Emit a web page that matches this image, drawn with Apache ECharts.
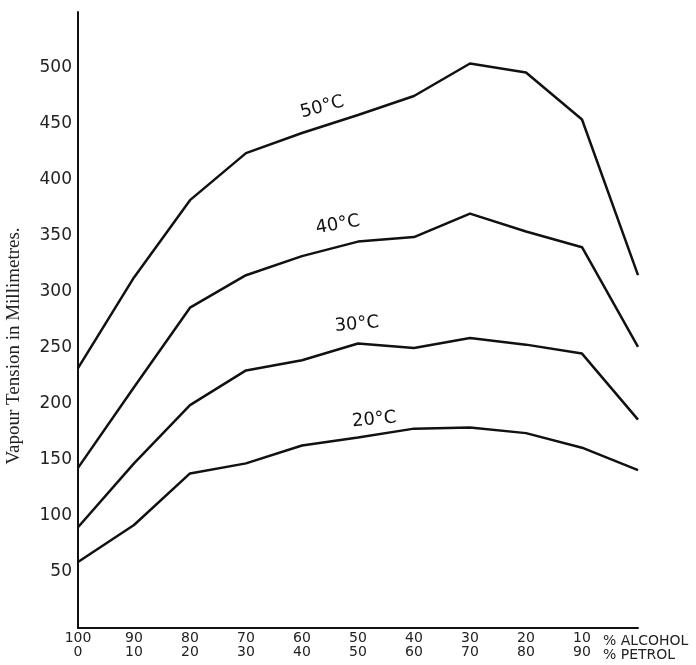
<!DOCTYPE html>
<html>
<head>
<meta charset="utf-8">
<script src="https://cdn.jsdelivr.net/npm/echarts@6/dist/echarts.min.js"></script>
<style>
  html, body { margin: 0; padding: 0; background: #fff; }
  #chart { width: 696px; height: 665px; }
</style>
</head>
<body>
<div id="chart"></div>
<script>
// % alcohol in the mixture (petrol = 100 - alcohol)
var alcohol = [100, 90, 80, 70, 60, 50, 40, 30, 20, 10, 0];

// vapour tension, mm
var t50 = [232, 313, 382, 424, 442, 458, 475, 504, 496, 454, 315];
var t40 = [143, 215, 286, 315, 332, 345, 349, 370, 354, 340, 251];
var t30 = [90, 147, 199, 230, 239, 254, 250, 259, 253, 245, 186];
var t20 = [59, 92, 138, 147, 163, 170, 178, 179, 174, 161, 141];

// curve labels: [alcohol, value, rotation]
var curveNames = ["50°C", "40°C", "30°C", "20°C"];
var namePos = [[56.4, 465, 15], [53.6, 360, 10], [50.2, 271, 5], [47.1, 186, 5]];

var yTicks = [50, 100, 150, 200, 250, 300, 350, 400, 450, 500];

function pairs(vals) {
  return alcohol.map(function (a, i) { return [a, vals[i]]; });
}

function makeSeries(vals, k) {
  return {
    type: "line",
    data: pairs(vals),
    symbol: "none",
    lineStyle: { color: "#111", width: 2.5 },
    animation: false,
    markPoint: {
      symbol: "circle",
      symbolSize: 0,
      data: [{
        coord: [namePos[k][0], namePos[k][1]],
        label: {
          show: true,
          formatter: curveNames[k],
          rotate: namePos[k][2],
          color: "#111",
          fontFamily: "DejaVu Sans",
          fontSize: 18
        }
      }]
    }
  };
}

var chart = echarts.init(document.getElementById("chart"));
chart.setOption({
  backgroundColor: "#fff",
  animation: false,
  grid: { left: 78, right: 58, top: 12, bottom: 37, containLabel: false, outerBoundsMode: "none" },
  xAxis: {
    type: "value",
    inverse: true,
    min: 0,
    max: 100,
    interval: 10,
    name: "% ALCOHOL\n% PETROL",
    nameLocation: "start",
    nameGap: -35,
    nameTextStyle: {
      fontFamily: "DejaVu Sans",
      fontSize: 14,
      lineHeight: 14,
      color: "#222",
      align: "left",
      verticalAlign: "top",
      padding: [6, 0, 0, 0]
    },
    axisLine: { onZero: false, lineStyle: { color: "#111", width: 2 } },
    axisTick: { show: false },
    splitLine: { show: false },
    axisLabel: {
      margin: 3,
      showMinLabel: true,
      showMaxLabel: true,
      color: "#222",
      fontFamily: "DejaVu Sans",
      fontSize: 14,
      lineHeight: 14,
      formatter: function (v) {
        if (v === 0) return "";
        return v + "\n" + (100 - v);
      }
    }
  },
  yAxis: {
    type: "value",
    position: "left",
    min: 0,
    max: 550,
    interval: 50,
    name: "Vapour Tension in Millimetres.",
    nameLocation: "middle",
    nameGap: 54,
    nameTextStyle: {
      fontFamily: "Liberation Serif",
      fontSize: 19,
      color: "#222",
      padding: [0, 52, 0, 0]
    },
    axisLine: { show: true, onZero: false, lineStyle: { color: "#111", width: 2 } },
    axisTick: { show: false },
    splitLine: { show: false },
    axisLabel: {
      margin: 6,
      color: "#222",
      fontFamily: "DejaVu Sans",
      fontSize: 17,
      formatter: function (v) {
        return yTicks.indexOf(v) >= 0 ? String(v) : "";
      }
    }
  },
  series: [t50, t40, t30, t20].map(makeSeries)
});
</script>
</body>
</html>
